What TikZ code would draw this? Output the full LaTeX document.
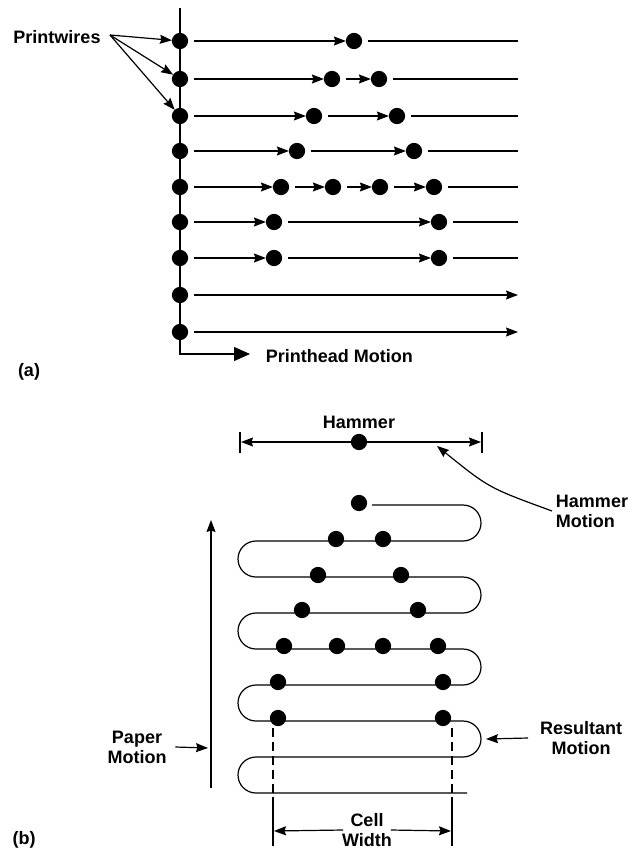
\documentclass[tikz,border=0pt]{standalone}
\usepackage{fontspec}
\setmainfont{Liberation Sans}
\usetikzlibrary{arrows.meta}
\begin{document}
\begin{tikzpicture}[x=1pt, y=-1pt, line width=1.2pt,
        font=\fontsize{18}{20}\selectfont\bfseries]
        \tikzstyle{dot}=[draw, circle, fill=black,
            minimum size=15pt, inner sep=0pt]
        \tikzstyle{arr}=[-{Stealth[length=12pt, width=9pt, inset=1.5pt]}]
        \tikzstyle{gap}=[shorten <=6pt]
        \tikzstyle{big}=[-{Triangle[length=16pt, width=14pt]}]
        \useasboundingbox (0,0) rectangle (638,850);

        % (a) printwires
        \coordinate (top) at (180,8);
        \coordinate (ph) at (250,354);
        \draw[big] (top) |- (ph);
        \node[anchor=west] (pht) at (262,356) {Printhead Motion};
        \node (a) at (29,372) {(a)};

        \node[dot] (w1) at (180,41) {};
        \node[dot] (w2) at (180,79) {};
        \node[dot] (w3) at (180,116) {};
        \node[dot] (w4) at (180,151) {};
        \node[dot] (w5) at (180,187) {};
        \node[dot] (w6) at (180,222) {};
        \node[dot] (w7) at (180,258) {};
        \node[dot] (w8) at (180,295) {};
        \node[dot] (w9) at (180,332) {};

        \node (pw) at (57,37) {Printwires};
        \coordinate (pws) at (110,35);
        \draw[arr] (pws) to (w1);
        \draw[arr] (pws) to (w2);
        \draw[arr] (pws) to (w3);

        \node[dot] (p11) at (354,41) {};
        \node[dot] (p21) at (332,79) {};
        \node[dot] (p22) at (379,79) {};
        \node[dot] (p31) at (314,116) {};
        \node[dot] (p32) at (397,116) {};
        \node[dot] (p41) at (297,151) {};
        \node[dot] (p42) at (414,151) {};
        \node[dot] (p51) at (281,187) {};
        \node[dot] (p52) at (333,187) {};
        \node[dot] (p53) at (380,187) {};
        \node[dot] (p54) at (434,187) {};
        \node[dot] (p61) at (274,222) {};
        \node[dot] (p62) at (439,222) {};
        \node[dot] (p71) at (274,258) {};
        \node[dot] (p72) at (439,258) {};

        \coordinate (e1) at (518,41);
        \coordinate (e2) at (518,79);
        \coordinate (e3) at (518,116);
        \coordinate (e4) at (518,151);
        \coordinate (e5) at (518,187);
        \coordinate (e6) at (518,222);
        \coordinate (e7) at (518,258);
        \coordinate (e8) at (518,295);
        \coordinate (e9) at (518,332);

        \draw[arr, gap] (w1) to (p11);
        \draw[gap] (p11) to (e1);
        \draw[arr, gap] (w2) to (p21);
        \draw[arr, gap] (p21) to (p22);
        \draw[gap] (p22) to (e2);
        \draw[arr, gap] (w3) to (p31);
        \draw[arr, gap] (p31) to (p32);
        \draw[gap] (p32) to (e3);
        \draw[arr, gap] (w4) to (p41);
        \draw[arr, gap] (p41) to (p42);
        \draw[gap] (p42) to (e4);
        \draw[arr, gap] (w5) to (p51);
        \draw[arr, gap] (p51) to (p52);
        \draw[arr, gap] (p52) to (p53);
        \draw[arr, gap] (p53) to (p54);
        \draw[gap] (p54) to (e5);
        \draw[arr, gap] (w6) to (p61);
        \draw[arr, gap] (p61) to (p62);
        \draw[gap] (p62) to (e6);
        \draw[arr, gap] (w7) to (p71);
        \draw[arr, gap] (p71) to (p72);
        \draw[gap] (p72) to (e7);
        \draw[arr, gap] (w8) to (e8);
        \draw[arr, gap] (w9) to (e9);

        % (b) hammer
        \node (ht) at (359,422) {Hammer};
        \node[dot] (h) at (359,442) {};
        \coordinate (hl) at (241,442);
        \coordinate (hr) at (481,442);
        \draw[arr] (h) to (hl);
        \draw[arr] (h) to (hr);
        \draw (240,432) -- (240,453);
        \draw (482,432) -- (482,453);

        \node[align=left] (hmt) at (592,511) {Hammer\\Motion};
        \coordinate (hx) at (437,446);
        \draw[arr] (hmt.west) .. controls (489,488) .. (hx);

        \draw[rounded corners=18pt] (372,505) -| (481,541) -| (238,577)
            -| (481,613) -| (238,649) -| (481,685) -| (238,721)
            -| (481,757) -| (238,793) -- (467,793);

        \node[dot] (q1) at (359,503) {};
        \node[dot] (q21) at (336,539) {};
        \node[dot] (q22) at (383,539) {};
        \node[dot] (q31) at (318,575) {};
        \node[dot] (q32) at (401,575) {};
        \node[dot] (q41) at (302,610) {};
        \node[dot] (q42) at (418,610) {};
        \node[dot] (q51) at (284,646) {};
        \node[dot] (q52) at (337,646) {};
        \node[dot] (q53) at (383,646) {};
        \node[dot] (q54) at (438,646) {};
        \node[dot] (q61) at (278,682) {};
        \node[dot] (q62) at (443,682) {};
        \node[dot] (q71) at (278,718) {};
        \node[dot] (q72) at (443,718) {};

        % paper motion
        \coordinate (pm0) at (211,788);
        \coordinate (pm1) at (211,520);
        \draw[arr] (pm0) to (pm1);
        \node[align=center] (pmt) at (137,747) {Paper\\Motion};
        \coordinate (pmx) at (208,748);
        \draw[arr] ([xshift=5pt]pmt.east) to (pmx);

        \node[align=center] (rmt) at (581,738) {Resultant\\Motion};
        \coordinate (rmx) at (486,739);
        \draw[arr] ([xshift=-8pt]rmt.west) to (rmx);

        % cell width
        \draw[dashed, dash pattern=on 9pt off 5pt] (273,728) -- (273,797);
        \draw[dashed, dash pattern=on 9pt off 5pt] (452,728) -- (452,797);
        \draw (273,797) -- (273,846);
        \draw (452,797) -- (452,846);
        \node[align=center] (cw) at (367,830) {Cell\\Width};
        \coordinate (cl) at (274,831);
        \coordinate (cr) at (451,831);
        \draw[arr] ([xshift=5pt]cw.west) to (cl);
        \draw[arr] ([xshift=-5pt]cw.east) to (cr);

        \node (b) at (24,840) {(b)};
    \end{tikzpicture}
\end{document}
